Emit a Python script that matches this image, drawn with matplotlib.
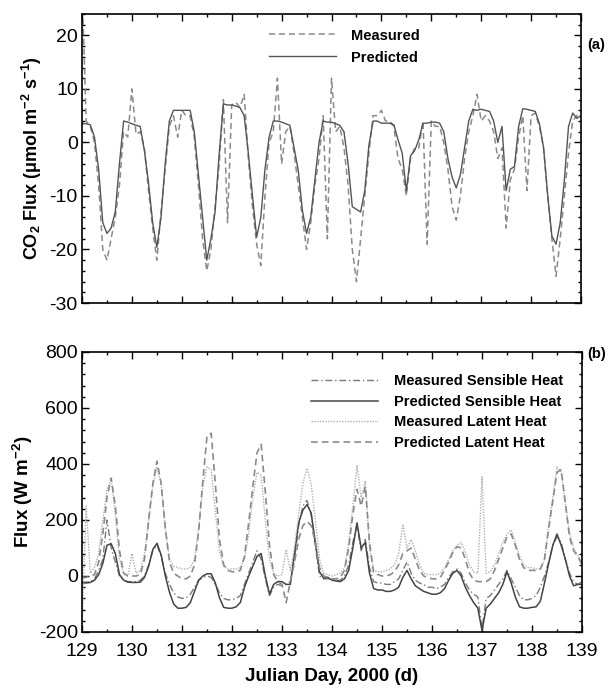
import numpy as np
import matplotlib
matplotlib.use("Agg")
import matplotlib.pyplot as plt
from matplotlib.ticker import MultipleLocator

plt.rcParams['font.family'] = ['Liberation Sans', 'DejaVu Sans']
plt.rcParams['mathtext.fontset'] = 'custom'
plt.rcParams['mathtext.rm'] = 'Liberation Sans:bold'
plt.rcParams['mathtext.bf'] = 'Liberation Sans:bold'
plt.rcParams['mathtext.default'] = 'rm'
plt.rcParams['axes.unicode_minus'] = False

# time axis: every 2 hours from day 129 to day 139
days = 129 + np.arange(121) * (2.0 / 24.0)

# ---- Panel (a): CO2 flux (umol m-2 s-1), 12 values per day (h0..h22) + day 139 h0
co2_predicted = [
    3.5, 3.5, 3.3, 1, -5, -15, -17, -16, -13, -4, 4, 3.8,
    3.5, 3.2, 3.0, -1.5, -7.6, -15, -19.6, -14, -4, 4, 6, 6,
    6, 6, 6, 2, -6, -14, -22, -18, -13, -2, 7.2, 7,
    7, 6.8, 6.5, 5, -2, -10, -17.7, -14, -5, 1, 4, 4,
    3.8, 3.5, 3.2, -1, -5.2, -12.7, -17, -14, -7, 0, 4, 3.8,
    3.8, 3.5, 3.2, 2, -4, -12, -12.5, -13, -9, -0.5, 4, 4,
    3.6, 3.6, 3.6, 3.3, 0.5, -2, -9, -2.5, -1.5, 0.5, 3.6, 3.6,
    3.8, 3.8, 3.6, 2, -3, -6.5, -8.5, -6, -1, 4, 6.2, 6,
    6.2, 6, 5.8, 4, 0, 3, -9, -5, -4.5, 3, 6.3, 6.2,
    6, 5.8, 3.5, -1, -10, -17.5, -19, -15, -7, 3, 5.5, 4.5,
    5,
]
co2_measured = [
    30, 4, 3, 0, -8, -20, -22, -18, -14, -8, 2, 1,
    10, 1.5, 2, -1, -9, -16, -22, -13, -5, 3, 5, 1,
    6, 5, 5, 1, -8, -18, -24, -20, -12, -4, 8, -15,
    7, 7.5, 6.5, 9, -3, -12, -19, -23, -10, 0, 2, 12,
    -4, 2, 3, -2, -8, -14, -20, -15, -8, -3, 5, -18,
    12, 2, 3, -1, -8, -20, -26, -18, -10, -2, 5, 5,
    6, 4, 4, 3, -3, -5, -10, -3, -1, -1, 4, -19,
    4, 3, 3, 0, -5, -12, -14.5, -10, -3, 2, 5, 9,
    4, 5, 4, 2, -3, -1, -16, -7, -5, 1, 5, -9,
    5, 5.5, 3, -1, -10, -18, -25, -18, -10, -2, 4, 5,
    5,
]

# ---- Panel (b): heat fluxes (W m-2)
sens_measured = [
    -20, -22, -20, -10, 20, 60, 200, 100, 50, 0, -15, -20,
    -20, -20, -15, 0, 40, 90, 110, 70, 10, -30, -60, -75,
    -80, -78, -65, -40, -15, -5, 0, -5, -30, -60, -80, -85,
    -85, -80, -70, -30, 10, 50, 90, 60, -10, -70, -40, -30,
    -35, -30, -20, 60, 180, 250, 270, 220, 110, 0, -10, -10,
    -10, -15, -15, 0, 40, 120, 180, 90, 130, 30, -20, -25,
    -25, -30, -30, -20, -10, 20, 50, 10, -15, -25, -30, -40,
    -40, -45, -40, -30, -5, 15, 25, 10, -25, -50, -65, -75,
    -190, -80, -70, -50, -30, -10, 20, -10, -40, -70, -85, -85,
    -80, -70, -40, 0, 50, 110, 140, 120, 60, 10, -20, -30,
    -20,
]
sens_predicted = [
    -25, -25, -23, -15, 5, 45, 110, 115, 80, 5, -15, -22,
    -23, -23, -22, -5, 35, 95, 117, 75, 0, -58, -100, -115,
    -115, -112, -95, -55, -15, 0, 8, 8, -25, -78, -112, -115,
    -115, -110, -95, -40, 0, 35, 70, 80, 0, -65, -30, -20,
    -20, -30, -30, 80, 190, 235, 255, 225, 120, 15, -8, -5,
    -15, -18, -20, -10, 20, 100, 190, 100, 120, 10, -45, -50,
    -50, -55, -55, -50, -40, -5, 20, -10, -35, -45, -55, -60,
    -65, -65, -60, -45, -15, 10, 20, 0, -40, -70, -95, -115,
    -195, -115, -100, -80, -60, -30, 15, -25, -75, -110, -115, -115,
    -112, -110, -90, -25, 45, 110, 150, 110, 60, 0, -35, -30,
    -30,
]
lat_measured = [
    -190, 250, 10, 30, 80, 200, 310, 345, 220, 60, 10, 0,
    80, 10, 20, 80, 200, 320, 390, 330, 170, 60, 35, 30,
    25, 25, 30, 60, 170, 320, 390, 380, 230, 90, 35, 25,
    25, 25, 30, 60, 150, 280, 370, 360, 200, 60, 10, 0,
    5, 95, 20, 100, 220, 330, 385, 330, 200, 60, 10, 5,
    0, 5, 10, 30, 120, 250, 395, 280, 340, 100, 20, 15,
    15, 20, 25, 40, 80, 185, 100, 130, 90, 40, 10, 5,
    5, 5, 10, 30, 60, 90, 110, 120, 85, 40, 15, 10,
    355, 10, 15, 40, 80, 120, 150, 165, 120, 70, 40, 30,
    30, 25, 25, 60, 180, 280, 390, 370, 260, 160, 100, 75,
    50,
]
lat_predicted = [
    -5, -5, 0, 5, 50, 150, 280, 350, 250, 90, 10, 0,
    0, 0, 5, 60, 200, 330, 410, 330, 170, 50, 10, 0,
    -10, -10, 0, 40, 160, 340, 500, 510, 330, 130, 40, 20,
    15, 15, 20, 70, 190, 320, 440, 470, 300, 110, 5, -20,
    -30, -95, -20, 50, 130, 180, 195, 180, 120, 30, 0, -5,
    -10, -10, -5, 20, 100, 220, 310, 250, 320, 120, 10, 5,
    0, 0, 5, 15, 40, 80, 90, 100, 60, 20, 0, -5,
    -10, -10, -5, 20, 50, 85, 105, 100, 60, 10, -15, -20,
    -20, -20, -10, 20, 60, 100, 140, 150, 110, 60, 30, 20,
    20, 20, 25, 60, 170, 270, 370, 380, 260, 140, 90, 70,
    40,
]

fig = plt.figure(figsize=(6.11, 6.90), dpi=100)
ax1 = fig.add_axes([82 / 611, 1 - 303 / 690, 499 / 611, 289 / 690])
ax2 = fig.add_axes([82 / 611, 1 - 632 / 690, 500 / 611, 280 / 690])

ax1.plot(days, co2_measured, color='#8a8a8a', lw=1.1, ls=(0, (4, 2.5)), label='Measured')
ax1.plot(days, co2_predicted, color='#555555', lw=1.0, ls='-', label='Predicted')

ax2.plot(days, sens_measured, color='#7a7a7a', lw=1.0, ls=(0, (5, 2, 1, 2)), label='Measured Sensible Heat')
ax2.plot(days, sens_predicted, color='#444444', lw=1.1, ls='-', label='Predicted Sensible Heat')
ax2.plot(days, lat_measured, color='#b0b0b0', lw=1.0, ls=(0, (1, 1)), label='Measured Latent Heat')
ax2.plot(days, lat_predicted, color='#8a8a8a', lw=1.2, ls=(0, (4, 2.5)), label='Predicted Latent Heat')

for ax in (ax1, ax2):
    ax.set_xlim(129, 139)
    ax.xaxis.set_major_locator(MultipleLocator(1))
    ax.xaxis.set_minor_locator(MultipleLocator(0.5))
    ax.tick_params(which='both', direction='in', top=True, right=True, width=1.0)
    ax.tick_params(which='major', length=5, labelsize=14, pad=3)
    ax.tick_params(which='minor', length=2.5)
    for s in ax.spines.values():
        s.set_linewidth(1.2)
ax2.tick_params(axis='x', which='major', pad=8)

ax1.set_ylim(-30, 24)
ax1.yaxis.set_major_locator(MultipleLocator(10))
ax1.yaxis.set_minor_locator(MultipleLocator(2))
ax1.set_xticklabels([])
ax1.set_ylabel('CO$_2$ Flux (μmol m$^{-2}$ s$^{-1}$)', fontsize=13, fontweight='bold', labelpad=4)

ax2.set_ylim(-200, 800)
ax2.yaxis.set_major_locator(MultipleLocator(200))
ax2.yaxis.set_minor_locator(MultipleLocator(40))
ax2.set_ylabel('Flux (W m$^{-2}$)', fontsize=13.5, fontweight='bold', labelpad=3)
ax2.set_xlabel('Julian Day, 2000 (d)', fontsize=13.5, fontweight='bold', labelpad=6)

leg1 = ax1.legend(loc='upper left', bbox_to_anchor=(0.354, 0.985), frameon=False,
                  prop={'weight': 'bold', 'size': 10.5}, handlelength=4.6,
                  handletextpad=1.0, labelspacing=0.55, borderaxespad=0.3)
leg2 = ax2.legend(loc='upper left', bbox_to_anchor=(0.437, 0.957), frameon=False,
                  prop={'weight': 'bold', 'size': 10.5}, handlelength=4.6,
                  handletextpad=1.1, labelspacing=0.45, borderaxespad=0.3)

fig.text(587 / 611, 1 - 45 / 690, '(a)', fontsize=10.5, fontweight='bold', va='center', ha='left')
fig.text(587 / 611, 1 - 354 / 690, '(b)', fontsize=10.5, fontweight='bold', va='center', ha='left')

fig.savefig('out.png', dpi=100)
